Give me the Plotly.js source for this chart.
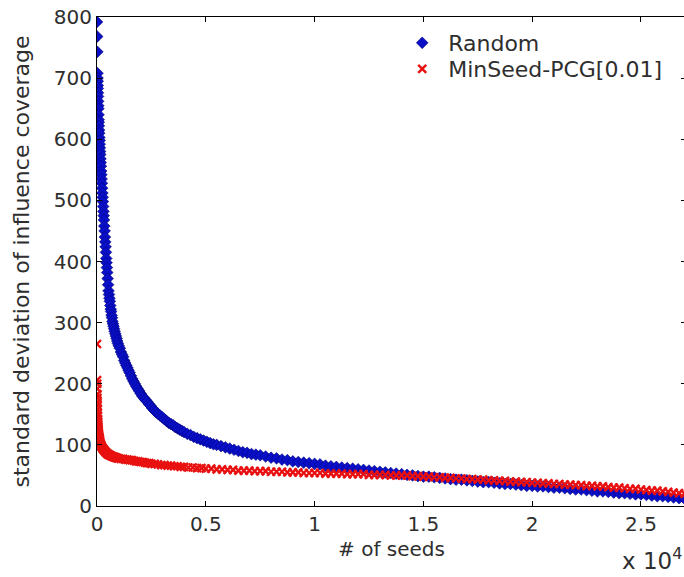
<!DOCTYPE html>
<html>
<head>
<meta charset="utf-8">
<script src="https://cdn.plot.ly/plotly-3.0.1.min.js"></script>
<style>
html, body { margin: 0; padding: 0; overflow: hidden; background: #fff; }
#chart { width: 686px; height: 577px; }
</style>
</head>
<body>
<div id="chart"></div>
<script>
// ---- Data ----
var seriesNames = ["Random", "MinSeed-PCG[0.01]"];

var randomX = [0,8,16,24,28,32,36,40,44,48,52,58,64,70,76,82,88,95,102,110,118,126,134,142,150,160,170,180,190,200,212,224,236,248,260,272,284,296,308,320,335,350,365,380,395,410,425,440,455,470,490,510,530,550,570,590,610,630,650,670,690,710,735,760,785,810,840,870,900,930,960,1000,
1050,1100,1150,1200,1250,1300,1350,1400,1450,1500,1560,1620,1680,1740,1800,1870,1940,2010,2080,2150,2220,2300,2380,2460,2540,2620,2700,2800,2900,3000,3100,3200,3300,3400,3500,3600,3700,3800,3900,4000,4150,4300,4450,4600,4750,4900,5050,5200,5350,5500,5700,5900,6100,6300,6500,6700,6900,7100,7300,7500,7750,8000,8250,8500,8750,9000,
9250,9500,9750,10000,10250,10500,10750,11000,11250,11500,11750,12000,12250,12500,12750,13000,13250,13500,13750,14000,14250,14500,14750,15000,15250,15500,15750,16000,16250,16500,16750,17000,17250,17500,17750,18000,18250,18500,18750,19000,19250,19500,19750,20000,20250,20500,20750,21000,21250,21500,21750,22000,22250,22500,22750,23000,23250,23500,23750,24000,24250,24500,24750,25000,25250,25500,25750,26000,26250,26500,26750,27000];
var randomY = [792,768,743,708,700,695,688,683,676,670,662,655,650,640,632,628,622,615,610,603,598,592,586,580,575,568,562,556,548,542,535,528,520,512,505,498,490,482,475,468,458,450,440,432,424,415,405,398,390,382,372,362,352,346,340,335,328,322,318,312,308,302,298,294,290,286,282,278,274,270,266,262,
258,252,248,244,238,234,230,226,222,218,213,208,204,200,196,192,188,184,180,177,174,171,167,164,160,157,154,151,148,145,142,139,136,134,132,129,127,125,123,121,118,116,113,111,109,107,105,103,101,100,98,96,94,92,90,88,87,85,84,83,81,79,78,76,75,73,
72,71,70,69,68,66,65,64,63,62,61,60,59,58,57,56,55,54,53,52,51,50,49,48,48,47,46,45,44,43,43,42,41,40,39,39,38,37,36,36,35,34,33,33,32,32,31,30,30,29,28,27,27,26,25,24,24,23,22,21,21,20,19,19,18,17,16,16,15,14,13,12];

var minseedX = [0,4,8,12,16,20,24,28,32,36,40,45,50,55,60,66,72,78,85,92,100,110,120,130,140,150,165,180,195,210,230,250,270,290,310,330,355,380,405,430,460,490,520,550,580,620,660,700,740,780,820,860,900,950,1000,
1100,1200,1300,1400,1500,1600,1700,1800,1900,2000,2100,2200,2300,2400,2500,2650,2800,2950,3100,3250,3400,3550,3700,3850,4000,4200,4400,4600,4800,5000,5250,5500,5750,6000,6250,6500,6750,7000,7250,7500,7750,8000,8250,8500,8750,9000,
9250,9500,9750,10000,10250,10500,10750,11000,11250,11500,11750,12000,12250,12500,12750,13000,13250,13500,13750,14000,14250,14500,14750,15000,15250,15500,15750,16000,16250,16500,16750,17000,17250,17500,17750,18000,18250,18500,18750,19000,19250,19500,19750,20000,20250,20500,20750,21000,21250,21500,21750,22000,22250,22500,22750,23000,23250,23500,23750,24000,24250,24500,24750,25000,25250,25500,25750,26000,26250,26500,26750,27000];
var minseedY = [265,206,200,192,183,177,170,164,158,152,147,142,138,134,130,127,124,121,118,116,114,112,110,108,106,104,102,100,99,98,96,95,94,93,92,91,90,89,88,87,86,85,85,84,83,83,82,81,81,80,80,79,79,78,78,
77,77,76,76,75,75,74,73,73,72,72,71,70,70,69,69,68,67,67,66,66,65,65,64,64,63,63,62,62,61,61,60,60,59,59,58,58,58,57,57,57,56,56,56,55,55,
55,54,54,54,54,53,53,53,53,52,52,52,52,51,51,51,51,50,50,50,50,49,49,48,48,47,47,46,46,45,45,44,44,43,43,42,42,41,41,40,40,39,39,38,38,37,37,36,36,35,35,34,34,33,33,32,32,31,30,30,29,28,28,27,26,25,25,24,23,22,21,20];

var xTickVals = [0, 5000, 10000, 15000, 20000, 25000];
var xTickText = ["0", "0.5", "1", "1.5", "2", "2.5"];
var yTickVals = [0, 100, 200, 300, 400, 500, 600, 700, 800];

var FONT = "DejaVu Sans, Liberation Sans, Arial, sans-serif";
var TXT = "#2e2e2e";

var traces = [
  {
    type: "scatter", mode: "markers", name: seriesNames[0], legend: "legend",
    x: randomX, y: randomY,
    marker: { symbol: "diamond", size: 9, color: "#0a10c8", line: { color: "#00007a", width: 0.6 } }
  },
  {
    type: "scatter", mode: "markers", name: seriesNames[1], legend: "legend2",
    x: minseedX, y: minseedY,
    marker: { symbol: "x-thin-open", size: 8, color: "#e81010", line: { color: "#e81010", width: 2.4 } }
  }
];

var axisCommon = {
  showgrid: false, zeroline: false, showline: true, linecolor: "#000", linewidth: 1,
  ticks: "inside", ticklen: 5, tickcolor: "#000", mirror: "ticks",
  tickfont: { family: FONT, size: 20, color: TXT }
};

function legendAt(yPaper) {
  return {
    x: 0.508, y: yPaper, xanchor: "left", yanchor: "middle",
    itemwidth: 42,
    bgcolor: "rgba(0,0,0,0)", borderwidth: 0,
    font: { family: FONT, size: 22, color: TXT }
  };
}

var layout = {
  width: 686, height: 577,
  margin: { l: 97, r: 0, t: 17, b: 71 },
  paper_bgcolor: "#fff", plot_bgcolor: "#fff",
  showlegend: true,
  legend: legendAt((506 - 43) / 489),
  legend2: legendAt((506 - 69) / 489),
  xaxis: Object.assign({}, axisCommon, {
    range: [0, 27070], tickmode: "array", tickvals: xTickVals, ticktext: xTickText,
    title: { text: "# of seeds", font: { family: FONT, size: 20, color: TXT }, standoff: 6 }
  }),
  yaxis: Object.assign({}, axisCommon, {
    range: [0, 800], tickmode: "array", tickvals: yTickVals,
    title: { text: "standard deviation of influence coverage", font: { family: FONT, size: 22, color: TXT }, standoff: 18 }
  }),
  annotations: [{
    xref: "paper", yref: "paper", x: (684 - 97) / 589, y: -0.143, xanchor: "right", yanchor: "bottom",
    text: "x 10<sup>4</sup>", showarrow: false, font: { family: FONT, size: 23, color: TXT }
  }]
};

Plotly.newPlot("chart", traces, layout, { displayModeBar: false, staticPlot: true });
</script>
</body>
</html>
